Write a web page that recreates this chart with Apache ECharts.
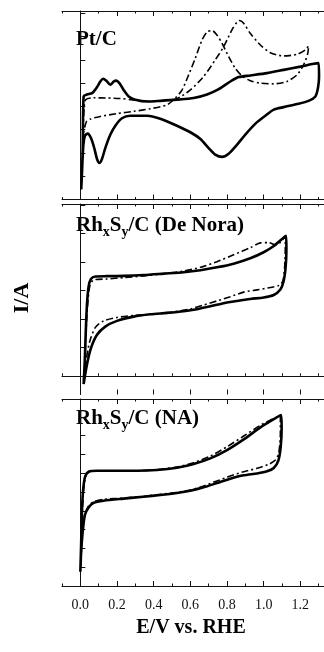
<!DOCTYPE html>
<html><head><meta charset="utf-8">
<script src="https://cdn.jsdelivr.net/npm/echarts@6/dist/echarts.min.js"></script>
<style>html,body{margin:0;padding:0;background:#fff}#c{width:324px;height:652px}</style>
</head><body><div id="c"></div><script>
// x tick values (E / V vs RHE)
const xTickValues = [0, 0.2, 0.4, 0.6, 0.8, 1.0, 1.2];
const xExtent = [-0.1, 1.329];
// Pt/C : solid curve [E, I(arb.)]
const ptcSolid = [[0.005,0.43],[0.013,2.14],[0.018,4.43],[0.036,4.51],[0.064,4.57],[0.091,4.83],[0.109,5.07],[0.124,5.19],[0.142,5.10],[0.164,4.93],[0.182,5.07],[0.196,5.11],[0.213,5.0],[0.236,4.71],[0.264,4.43],[0.30,4.29],[0.364,4.21],[0.436,4.24],[0.527,4.29],[0.618,4.36],[0.691,4.51],[0.755,4.74],[0.818,5.07],[0.864,5.26],[0.927,5.33],[1.018,5.43],[1.109,5.57],[1.2,5.71],[1.273,5.83],[1.3,5.86],
[1.302,5.29],[1.296,4.79],[1.282,4.43],[1.245,4.24],[1.182,4.1],[1.109,3.97],[1.055,3.86],[1.009,3.6],[0.955,3.26],[0.9,2.79],[0.855,2.36],[0.809,1.97],[0.773,1.83],[0.736,1.93],[0.7,2.21],[0.655,2.6],[0.6,2.89],[0.527,3.17],[0.436,3.47],[0.364,3.6],[0.273,3.6],[0.227,3.49],[0.191,3.17],[0.164,2.79],[0.136,2.21],[0.118,1.74],[0.104,1.57],[0.091,1.74],[0.076,2.21],[0.058,2.64],[0.04,2.83],[0.025,2.74],[0.016,2.29],[0.009,1.14],[0.005,0.43]];
// Pt/C : dash-dot curve
const ptcDash = [[0.013,2.29],[0.02,3.86],[0.029,4.29],[0.073,4.37],[0.145,4.36],[0.218,4.34],[0.273,4.29],[0.327,4.24],[0.4,4.21],[0.473,4.26],[0.527,4.33],[0.6,4.71],[0.673,5.29],[0.736,6.0],[0.782,6.57],[0.827,7.29],[0.855,7.63],[0.869,7.69],[0.891,7.57],[0.927,7.14],[0.982,6.64],[1.036,6.31],[1.109,6.17],[1.182,6.24],[1.227,6.43],[1.245,6.6],
[1.24,6.26],[1.218,5.79],[1.182,5.36],[1.127,5.07],[1.055,4.97],[0.982,5.0],[0.927,5.1],[0.882,5.31],[0.845,5.64],[0.809,6.14],[0.773,6.71],[0.745,7.07],[0.718,7.26],[0.691,7.2],[0.664,6.86],[0.627,6.07],[0.591,5.36],[0.555,4.71],[0.518,4.36],[0.473,4.07],[0.382,3.9],[0.291,3.79],[0.2,3.69],[0.109,3.57],[0.055,3.46],[0.033,3.34],[0.018,2.86],[0.013,2.29]];
// RhxSy/C (De Nora)
const deNoraSolid = [[0.018,-0.29],[0.024,0.50],[0.029,1.44],[0.036,2.49],[0.045,3.13],[0.058,3.40],[0.082,3.49],[0.145,3.50],[0.236,3.51],[0.345,3.54],[0.455,3.59],[0.564,3.64],[0.655,3.71],[0.745,3.81],[0.836,3.94],[0.927,4.13],[1.0,4.34],[1.055,4.56],[1.1,4.81],[1.122,4.92],
[1.124,4.48],[1.12,3.84],[1.109,3.33],[1.091,3.03],[1.055,2.84],[1.0,2.75],[0.927,2.70],[0.855,2.63],[0.782,2.55],[0.709,2.44],[0.636,2.34],[0.564,2.27],[0.473,2.21],[0.382,2.16],[0.291,2.08],[0.2,1.93],[0.136,1.73],[0.091,1.44],[0.058,0.97],[0.036,0.39],[0.018,-0.29]];
const deNoraDash = [[0.02,-0.2],[0.027,0.85],[0.036,2.14],[0.051,3.13],[0.073,3.37],[0.145,3.40],[0.236,3.45],[0.345,3.51],[0.455,3.59],[0.564,3.68],[0.655,3.81],[0.745,4.01],[0.836,4.25],[0.927,4.50],[0.982,4.67],[1.027,4.68],[1.064,4.60],[1.091,4.69],[1.118,4.90],
[1.116,4.01],[1.105,3.33],[1.082,3.17],[1.036,3.10],[0.964,3.02],[0.891,2.94],[0.818,2.78],[0.745,2.63],[0.673,2.49],[0.6,2.35],[0.491,2.23],[0.382,2.16],[0.291,2.12],[0.2,2.05],[0.127,1.93],[0.082,1.70],[0.051,1.20],[0.031,0.50],[0.02,-0.2]];
// RhxSy/C (NA)
const naSolid = [[0.0,0.76],[0.004,2.09],[0.009,4.04],[0.016,5.20],[0.027,5.85],[0.045,6.08],[0.091,6.13],[0.2,6.13],[0.309,6.13],[0.418,6.17],[0.527,6.29],[0.618,6.49],[0.709,6.79],[0.8,7.23],[0.891,7.80],[0.982,8.44],[1.055,8.88],[1.095,9.10],
[1.098,8.48],[1.093,7.41],[1.08,6.67],[1.055,6.28],[1.018,6.10],[0.964,5.99],[0.891,5.89],[0.818,5.71],[0.745,5.48],[0.673,5.25],[0.6,5.07],[0.527,4.95],[0.436,4.84],[0.345,4.75],[0.236,4.65],[0.127,4.54],[0.073,4.43],[0.045,4.18],[0.025,3.78],[0.013,2.89],[0.004,1.74],[0.0,0.76]];
const naDash = [[0.002,1.03],[0.009,3.51],[0.018,5.11],[0.029,5.82],[0.047,6.06],[0.091,6.12],[0.2,6.12],[0.309,6.13],[0.418,6.19],[0.527,6.33],[0.618,6.56],[0.709,6.91],[0.8,7.41],[0.891,7.98],[0.982,8.55],[1.055,8.92],[1.091,9.06],
[1.091,8.12],[1.082,7.06],[1.064,6.70],[1.027,6.47],[0.964,6.26],[0.891,6.08],[0.818,5.85],[0.745,5.59],[0.673,5.32],[0.6,5.11],[0.527,4.98],[0.436,4.88],[0.345,4.77],[0.236,4.68],[0.127,4.61],[0.073,4.49],[0.045,4.26],[0.024,3.78],[0.011,2.80],[0.002,1.03]];
// y axis extents and tick values per panel (arbitrary current units)
const yExtents = [[0, 8.1], [-0.656, 6.035], [0, 9.95]];
const yTickValues = [[1,2,3,4,5,6,7,8], [0,1,2,3,4,5,6], [1,2,3,4,5,6,7,8,9]];
const panelSeries = [[ptcSolid, ptcDash], [deNoraSolid, deNoraDash], [naSolid, naDash]];

const SERIF = '"Liberation Serif","DejaVu Serif",serif';
const grids = [
  {left: 62, top: 11, width: 262, height: 188.5, outerBoundsMode: 'none'},
  {left: 62, top: 204, width: 262, height: 190.5, outerBoundsMode: 'none'},
  {left: 62, top: 399, width: 262, height: 187, outerBoundsMode: 'none'}
];
const xAxes = [], yAxes = [], series = [];
grids.forEach((g, i) => {
  const base = {type: 'value', gridIndex: i, min: xExtent[0], max: xExtent[1], splitLine: {show: false},
    axisLine: {show: true, lineStyle: {color: '#111', width: 1}}};
  ['bottom', 'top'].forEach(pos => {
    // minor ticks every 0.1
    xAxes.push(Object.assign({}, base, {position: pos, interval: 0.1,
      axisTick: {show: true, inside: true, length: 2.5, lineStyle: {color: '#111', width: 1}},
      axisLabel: {show: false}}));
    // major ticks
    xAxes.push(Object.assign({}, base, {position: pos, axisLine: {show: false},
      axisTick: {show: true, inside: true, length: 5, customValues: xTickValues, lineStyle: {color: '#111', width: 1}},
      axisLabel: {show: (i === 2 && pos === 'bottom'), customValues: xTickValues, margin: 12,
        fontFamily: SERIF, fontSize: 14, color: '#111', formatter: v => v.toFixed(1)}}));
  });
  yAxes.push({type: 'value', gridIndex: i, min: yExtents[i][0], max: yExtents[i][1], position: 'left',
    splitLine: {show: false}, axisLine: {show: true, lineStyle: {color: '#111', width: 1}},
    axisTick: {show: true, inside: true, length: 5, customValues: yTickValues[i], lineStyle: {color: '#111', width: 1}},
    axisLabel: {show: false, customValues: yTickValues[i]}});
  const xi = xAxes.length - 4;
  panelSeries[i].forEach((d, k) => {
    series.push({type: 'line', xAxisIndex: xi, yAxisIndex: i, data: d, showSymbol: false, symbol: 'none',
      smooth: 0.25, animation: false, z: k === 0 ? 3 : 2,
      lineStyle: k === 0 ? {color: '#000', width: 2.6} : {color: '#000', width: 1.6, type: [7, 3, 2, 3]}});
  });
});

const chart = echarts.init(document.getElementById('c'), null, {renderer: 'canvas'});
chart.setOption({
  backgroundColor: '#fff',
  animation: false,
  grid: grids,
  xAxis: xAxes,
  yAxis: yAxes,
  series: series,
  graphic: [
    {type: 'text', left: 76, top: 29, style: {text: 'Pt/C', font: 'bold 21px ' + SERIF, fill: '#000'}},
    {type: 'text', left: 76, top: 215, style: {text: '{m|Rh}{s|x}{m|S}{s|y}{m|/C (De Nora)}', fill: '#000',
      rich: {m: {fontFamily: SERIF, fontWeight: 'bold', fontSize: 21, lineHeight: 28},
             s: {fontFamily: SERIF, fontWeight: 'bold', fontSize: 14, lineHeight: 14, verticalAlign: 'bottom'}}}},
    {type: 'text', left: 76, top: 408, style: {text: '{m|Rh}{s|x}{m|S}{s|y}{m|/C (NA)}', fill: '#000',
      rich: {m: {fontFamily: SERIF, fontWeight: 'bold', fontSize: 21, lineHeight: 28},
             s: {fontFamily: SERIF, fontWeight: 'bold', fontSize: 14, lineHeight: 14, verticalAlign: 'bottom'}}}},
    {type: 'text', x: 22, y: 298, rotation: Math.PI / 2, style: {text: 'I/A', font: 'bold 22px ' + SERIF, fill: '#000', align: 'center', verticalAlign: 'middle'}},
    {type: 'text', x: 191, y: 628, style: {text: 'E/V vs. RHE', font: 'bold 20px ' + SERIF, fill: '#000', align: 'center', verticalAlign: 'middle'}}
  ]
});
</script></body></html>
